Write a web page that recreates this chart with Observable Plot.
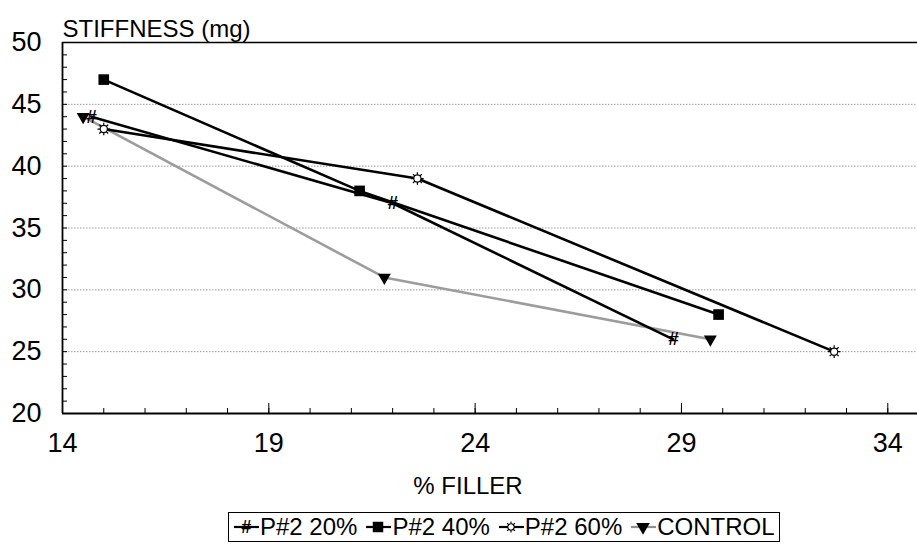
<!DOCTYPE html>
<html><head><meta charset="utf-8">
<script src="https://cdn.jsdelivr.net/npm/d3@7"></script>
<script src="https://cdn.jsdelivr.net/npm/@observablehq/plot@0.6"></script>
<style>
body{margin:0;background:#fff;font-family:"Liberation Sans",Arial,sans-serif;}
#chart{position:relative;width:917px;height:547px;overflow:hidden;}
#legend{position:absolute;left:228px;top:512px;height:28px;border:1.5px solid #000;display:flex;align-items:center;font-size:24px;padding:0 4px 0 3px;white-space:nowrap;line-height:1;}
#legend .item{display:flex;align-items:center;margin-right:7px;}
#legend .item:last-child{margin-right:0;}
#legend svg{display:block;}
</style></head><body><div id="chart"></div>
<script>
// ---- data ----
const seriesNames = ["P#2 20%", "P#2 40%", "P#2 60%", "CONTROL"];
const filler20 = [14.7, 22.0, 28.8];
const stiff20  = [44, 37, 26];
const filler40 = [15.0, 21.2, 29.9];
const stiff40  = [47, 38, 28];
const filler60 = [15.0, 22.6, 32.7];
const stiff60  = [43, 39, 25];
const fillerC  = [14.5, 21.8, 29.7];
const stiffC   = [44, 31, 26];
const xTickLabels = [14, 19, 24, 29, 34];
const yTickLabels = [20, 25, 30, 35, 40, 45, 50];
const xLabel = "% FILLER";
const yLabel = "STIFFNESS (mg)";

const toRows = (xs, ys, s) => xs.map((x, i) => ({x, y: ys[i], s}));
const d20 = toRows(filler20, stiff20, seriesNames[0]);
const d40 = toRows(filler40, stiff40, seriesNames[1]);
const d60 = toRows(filler60, stiff60, seriesNames[2]);
const dC  = toRows(fillerC, stiffC, seriesNames[3]);

const sun = {
  draw(ctx, size) {
    const r = Math.sqrt(size / Math.PI);
    ctx.moveTo(r, 0);
    ctx.arc(0, 0, r, 0, 2 * Math.PI);
    for (let i = 0; i < 8; i++) {
      const a = i * Math.PI / 4;
      ctx.moveTo(r * Math.cos(a), r * Math.sin(a));
      ctx.lineTo(1.75 * r * Math.cos(a), 1.75 * r * Math.sin(a));
    }
  }
};

const gridVals = yTickLabels.filter(v => v > 20 && v < 50);

const chart = Plot.plot({
  width: 917, height: 505,
  marginLeft: 62, marginRight: 0, marginTop: 42, marginBottom: 92,
  style: {fontFamily: "Liberation Sans, Arial, sans-serif", fontSize: "24px", color: "#000", background: "#fff"},
  x: {domain: [14, 34.72]},
  y: {domain: [20, 50]},
  marks: [
    Plot.ruleY(gridVals, {stroke: "#9a9a9a", strokeDasharray: "1.5,1.5", strokeWidth: 1}),
    Plot.axisX(d3.range(14, 35), {tickSize: -5, tickFormat: () => "", label: null, strokeWidth: 1}),
    Plot.axisX(xTickLabels, {tickSize: -10, tickPadding: 29, label: null, fontSize: 27}),
    Plot.axisY(d3.range(20, 51), {tickSize: -5, tickFormat: () => "", label: null, strokeWidth: 1}),
    Plot.axisY(yTickLabels, {tickSize: 0, tickPadding: 21, label: null, fontSize: 27}),
    Plot.ruleY([50], {stroke: "#000", strokeWidth: 1.3}),
    Plot.ruleY([20], {stroke: "#000", strokeWidth: 1.8}),
    Plot.ruleX([14], {stroke: "#000", strokeWidth: 1.8}),
    Plot.text([yLabel], {frameAnchor: "top-left", dy: -23, textAnchor: "start", fontSize: 24}),
    Plot.text([xLabel], {frameAnchor: "bottom", dy: 80, dx: -22, fontSize: 24}),
    Plot.line(dC, {x: "x", y: "y", stroke: "#9c9c9c", strokeWidth: 2.6}),
    Plot.line(d60, {x: "x", y: "y", stroke: "#000", strokeWidth: 2.6}),
    Plot.line(d20, {x: "x", y: "y", stroke: "#000", strokeWidth: 2.6}),
    Plot.line(d40, {x: "x", y: "y", stroke: "#000", strokeWidth: 2.6}),
    Plot.dot(d40, {x: "x", y: "y", symbol: "square", r: 6, fill: "#000", stroke: "none"}),
    Plot.dot(dC, {x: "x", y: "y", symbol: "triangle", rotate: 180, r: 4.8, fill: "#000", stroke: "none"}),
    Plot.dot(d60, {x: "x", y: "y", symbol: sun, r: 3.6, fill: "#fff", stroke: "#000", strokeWidth: 1.2}),
    Plot.text(d20, {x: "x", y: "y", text: () => "#", fontSize: 19, fontWeight: "bold", fontStyle: "italic", fill: "#000"})
  ]
});
document.getElementById("chart").appendChild(chart);

// ---- legend ----
const legend = document.createElement("div");
legend.id = "legend";
document.getElementById("chart").appendChild(legend);
const kinds = ["hash", "square", "sun", "tri"];
seriesNames.forEach((name, i) => {
  const item = document.createElement("div");
  item.className = "item";
  const svg = d3.create("svg").attr("width", 28).attr("height", 22);
  svg.append("line").attr("x1", 2).attr("x2", 27).attr("y1", 11).attr("y2", 11)
    .attr("stroke", i === 3 ? "#8e8e8e" : "#000").attr("stroke-width", 2.2);
  const k = kinds[i];
  if (k === "hash") {
    svg.append("text").attr("x", 14).attr("y", 11).attr("dy", "0.36em").attr("text-anchor", "middle")
      .attr("font-size", 18).attr("font-weight", "bold").attr("font-style", "italic").text("#");
  } else if (k === "square") {
    svg.append("path").attr("transform", "translate(14,11)").attr("d", d3.symbol(d3.symbolSquare, 110)()).attr("fill", "#000");
  } else if (k === "sun") {
    svg.append("path").attr("transform", "translate(14,11)").attr("d", d3.symbol(sun, 32)()).attr("fill", "#fff").attr("stroke", "#000").attr("stroke-width", 1.1);
  } else {
    svg.append("path").attr("transform", "translate(14,11) rotate(180)").attr("d", d3.symbol(d3.symbolTriangle, 80)()).attr("fill", "#000");
  }
  item.appendChild(svg.node());
  const lab = document.createElement("span");
  lab.textContent = name;
  item.appendChild(lab);
  legend.appendChild(item);
});
</script>
</body></html>
